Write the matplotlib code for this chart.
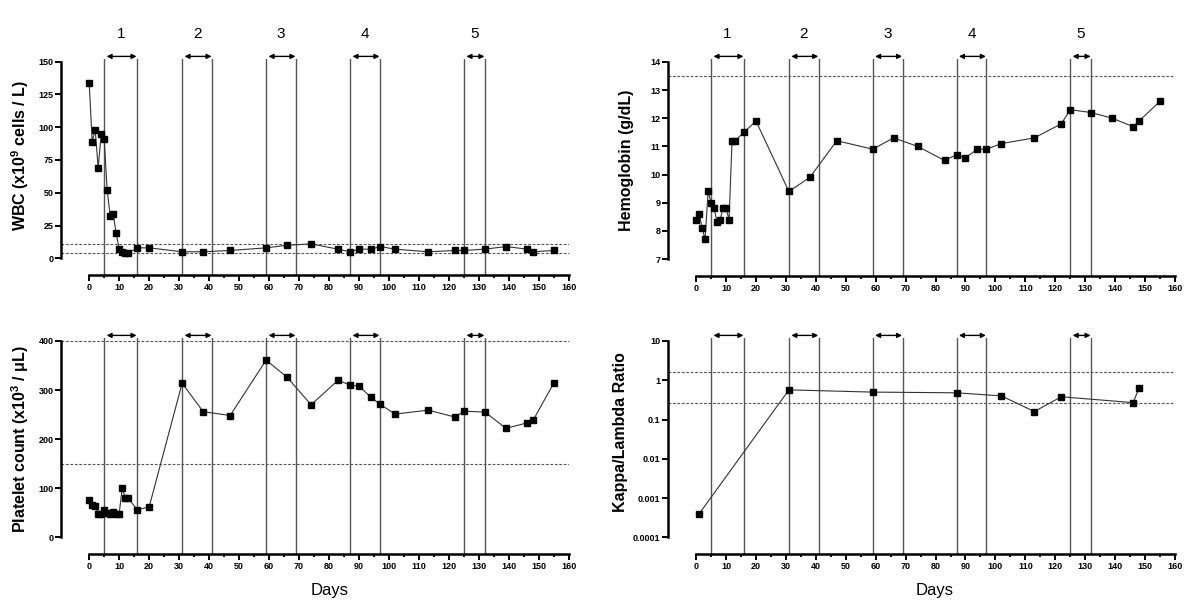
import matplotlib.pyplot as plt
from matplotlib.ticker import FixedLocator, MultipleLocator, NullLocator


# sampling days (same schedule for WBC, hemoglobin and platelets)
LAB_DAYS = [0, 1, 2, 3, 4, 5, 6, 7, 8, 9, 10, 11, 12, 13, 16, 20, 31, 38, 47, 59, 66, 74,
            83, 87, 90, 94, 97, 102, 113, 122, 125, 132, 139, 146, 148, 155]
WBC = [134, 89, 98, 69, 95, 91, 52, 32, 34, 19, 7, 5, 4, 4, 8, 8, 5, 5, 6, 8, 10, 11,
       7, 5, 7, 7, 9, 7, 5, 6, 6, 7, 9, 7, 5, 6]
HGB = [8.4, 8.6, 8.1, 7.7, 9.4, 9.0, 8.8, 8.3, 8.4, 8.8, 8.8, 8.4, 11.2, 11.2, 11.5, 11.9,
       9.4, 9.9, 11.2, 10.9, 11.3, 11.0, 10.5, 10.7, 10.6, 10.9, 10.9, 11.1, 11.3, 11.8,
       12.3, 12.2, 12.0, 11.7, 11.9, 12.6]
PLT = [77, 66, 63, 48, 48, 55, 50, 47, 51, 47, 48, 100, 81, 80, 56, 62, 314, 256, 248, 361,
       326, 270, 320, 310, 308, 285, 271, 251, 259, 245, 257, 255, 222, 233, 238, 315]

KL_DAYS = [1, 31, 59, 87, 102, 113, 122, 146, 148]
KL_RATIO = [0.0004, 0.57, 0.50, 0.48, 0.40, 0.16, 0.38, 0.27, 0.64]

# treatment cycles
CYCLE_START = [5, 31, 59, 87, 125]
CYCLE_END = [16, 41, 69, 97, 132]
CYCLE_LABELS = ["1", "2", "3", "4", "5"]

# normal ranges (dashed)
WBC_REF = [4, 11]
HGB_REF = [13.5]
PLT_REF = [150, 400]
KL_REF = [0.26, 1.65]

DAY_TICKS = list(range(0, 161, 10))
DAY_MINOR = list(range(5, 160, 10))
WBC_TICKS = [0, 25, 50, 75, 100, 125, 150]
HGB_TICKS = [7, 8, 9, 10, 11, 12, 13, 14]
PLT_TICKS = [0, 100, 200, 300, 400]
KL_TICKS = [0.0001, 0.001, 0.01, 0.1, 1, 10]
KL_TICK_LABELS = ["0.0001", "0.001", "0.01", "0.1", "1", "10"]

plt.rcParams["font.family"] = ["Liberation Sans", "DejaVu Sans"]
plt.rcParams["font.weight"] = "bold"
plt.rcParams["mathtext.default"] = "regular"


def draw_panel(ax, days, values, refs, ylim, yticks, numbered, log=False, ytick_labels=None):
    if log:
        ax.set_yscale("log")
    ax.set_xlim(-9.4, 160)
    ax.set_ylim(*ylim)

    for y in refs:
        ax.axhline(y, color="#555555", lw=0.8, ls=(0, (2.5, 1.5)), zorder=1)

    trans = ax.get_xaxis_transform()
    for start, end, label in zip(CYCLE_START, CYCLE_END, CYCLE_LABELS):
        ax.axvline(start, color="#555555", lw=1.0, zorder=1)
        ax.axvline(end, color="#555555", lw=1.0, zorder=1)
        ax.annotate(
            "",
            xy=(end - 0.2, 1.012),
            xytext=(start + 0.8, 1.012),
            xycoords=trans,
            textcoords=trans,
            arrowprops=dict(arrowstyle="<|-|>", color="black", lw=1.0,
                            mutation_scale=7, shrinkA=0, shrinkB=0),
            annotation_clip=False,
        )
        if numbered:
            ax.text((start + end) / 2, 1.115, label, transform=trans, ha="center",
                    va="center", fontsize=11, fontweight="normal")

    ax.plot(days, values, color="#333333", lw=0.8, marker="s", ms=3.8,
            mfc="black", mec="black", zorder=3)

    for side in ("top", "right"):
        ax.spines[side].set_visible(False)
    ax.spines["left"].set_linewidth(1.8)
    ax.spines["bottom"].set_linewidth(1.8)
    ax.spines["left"].set_bounds(yticks[0], yticks[-1])
    ax.spines["bottom"].set_bounds(0, 160)

    ax.set_yticks(yticks)
    if ytick_labels is not None:
        ax.set_yticklabels(ytick_labels)
    ax.yaxis.set_minor_locator(NullLocator())
    ax.xaxis.set_major_locator(FixedLocator(DAY_TICKS))
    ax.xaxis.set_minor_locator(FixedLocator(DAY_MINOR))
    ax.tick_params(which="both", direction="out", width=1.4, labelsize=6.5, pad=1.5)
    ax.tick_params(which="major", length=4)
    ax.tick_params(which="minor", length=2.5)
    ax.set_facecolor("none")


def main():
    fig = plt.figure(figsize=(12, 6.1), dpi=100)
    W, H = 1200, 610

    def place(left_px, right_px, top_px, bottom_px):
        return fig.add_axes([left_px / W, 1 - bottom_px / H,
                             (right_px - left_px) / W, (bottom_px - top_px) / H])

    ax_wbc = place(61, 569, 59, 275)
    ax_hgb = place(668, 1175, 59, 276)
    ax_plt = place(61, 569, 338, 554)
    ax_kl = place(668, 1175, 338, 554)

    draw_panel(ax_wbc, LAB_DAYS, WBC, WBC_REF, (-12.7, 152), WBC_TICKS, True)
    draw_panel(ax_hgb, LAB_DAYS, HGB, HGB_REF, (6.4, 14.1), HGB_TICKS, True)
    draw_panel(ax_plt, LAB_DAYS, PLT, PLT_REF, (-34, 406), PLT_TICKS, False)
    draw_panel(ax_kl, KL_DAYS, KL_RATIO, KL_REF, (3.8e-5, 11.9), KL_TICKS, False,
               log=True, ytick_labels=KL_TICK_LABELS)

    label_kw = dict(rotation=90, ha="center", va="center", fontsize=11.5)
    fig.text(20 / W, 1 - 155 / H, r"WBC (x10$^{9}$ cells / L)", **label_kw)
    fig.text(627 / W, 1 - 160 / H, "Hemoglobin (g/dL)", **label_kw)
    fig.text(20 / W, 1 - 439 / H, r"Platelet count (x10$^{3}$ / $\mu$L)", **label_kw)
    fig.text(621 / W, 1 - 432 / H, "Kappa/Lambda Ratio", **label_kw)

    fig.text(330 / W, 1 - 591 / H, "Days", ha="center", va="center", fontsize=12,
             fontweight="normal")
    fig.text(935 / W, 1 - 591 / H, "Days", ha="center", va="center", fontsize=12,
             fontweight="normal")

    fig.savefig("out.png", dpi=100)
    plt.close(fig)


if __name__ == "__main__":
    main()
